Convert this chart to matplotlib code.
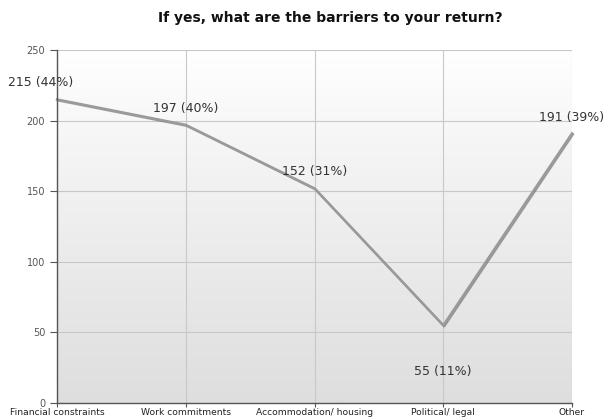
import matplotlib
matplotlib.use("Agg")
import matplotlib.pyplot as plt
import matplotlib.patheffects as pe
import numpy as np
from matplotlib.colors import LinearSegmentedColormap

categories = ["Financial constraints", "Work commitments", "Accommodation/ housing",
              "Political/ legal", "Other"]
counts = [215, 197, 152, 55, 191]
percents = [44, 40, 31, 11, 39]
yticks = [0, 50, 100, 150, 200, 250]

fig = plt.figure(figsize=(6.05, 4.19), dpi=100)
ax = fig.add_axes([57/605, 1-403/419, (572-57)/605, (403-50)/419])

x = np.arange(len(categories))
ax.set_xlim(0, len(categories)-1)
ax.set_ylim(0, 250)

# gradient background
grad = np.linspace(0, 1, 256).reshape(-1, 1)
cmap = LinearSegmentedColormap.from_list("g", [(0, "#dedede"), (0.7, "#f4f4f4"), (1, "#ffffff")])
ax.imshow(grad, aspect="auto", cmap=cmap, extent=[0, len(categories)-1, 0, 250],
          origin="lower", zorder=0)

ax.set_yticks(yticks)
ax.set_xticks(x)
ax.set_xticklabels(categories, fontsize=6.6, color="#222222")
ax.tick_params(axis="y", labelsize=7, labelcolor="#555555", colors="#555555", length=5, direction="out")
ax.tick_params(axis="x", length=3, direction="out", colors="#555555", labelcolor="#222222", pad=0.5)
ax.grid(True, color="#c8c8c8", linewidth=0.8, zorder=1)
ax.set_axisbelow(True)
for s in ["top", "right"]:
    ax.spines[s].set_visible(False)
for s in ["left", "bottom"]:
    ax.spines[s].set_color("#555555")
    ax.spines[s].set_linewidth(1.0)
    ax.spines[s].set_zorder(4)

ax.plot(x, counts, color="#9a9a9a", linewidth=1.7, zorder=3, clip_on=False,
        path_effects=[pe.SimpleLineShadow(offset=(0.7, -0.7), shadow_color="#444444", alpha=0.5),
                      pe.Normal()])

offsets = [(-12, 12), (0, 12), (0, 12), (0, -33), (0, 11.5)]
for xi, c, p, (dx, dy) in zip(x, counts, percents, offsets):
    ax.annotate(f"{c} ({p}%)", (xi, c), xytext=(dx, dy), textcoords="offset points",
                ha="center", va="center", fontsize=9, color="#333333",
                annotation_clip=False, zorder=5)

fig.text(330/605, 1-18/419, "If yes, what are the barriers to your return?",
         ha="center", va="center", fontsize=10, fontweight="bold", color="#111111")

fig.savefig("out.png", dpi=100)
